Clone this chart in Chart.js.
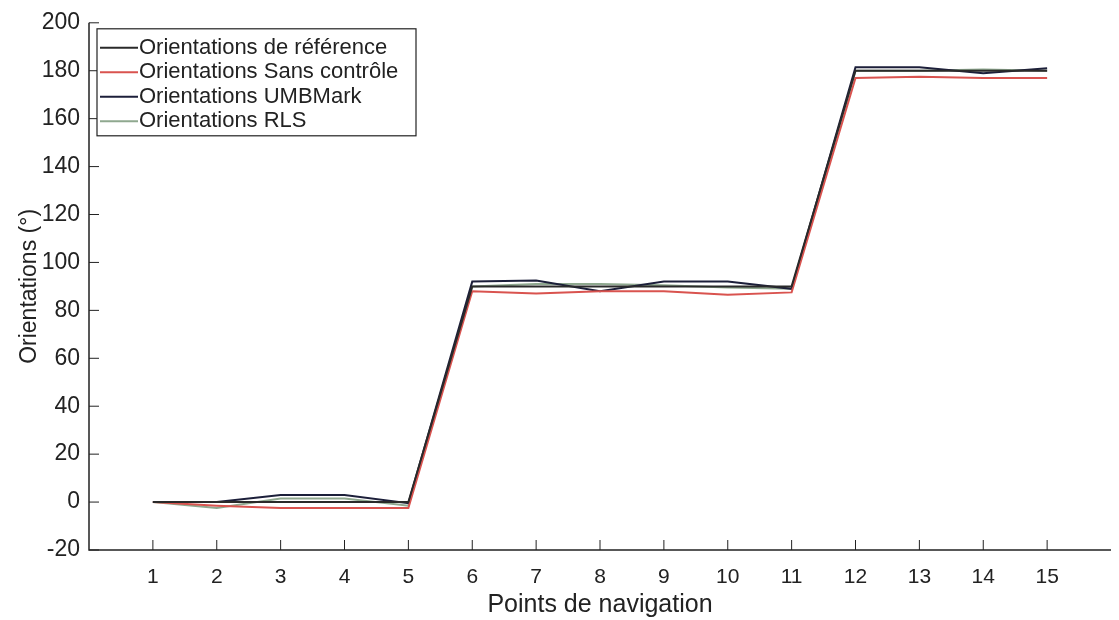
<!DOCTYPE html>
<html>
<head>
<meta charset="utf-8">
<script src="https://cdn.jsdelivr.net/npm/chart.js@4"></script>
<style>
  html, body { margin: 0; padding: 0; background: #fff; }
  #wrap { width: 1119px; height: 620px; }
</style>
</head>
<body>
<div id="wrap"><canvas id="orientChart" width="1119" height="620"></canvas></div>
<script>
// Navigation points (x axis)
const points = [1, 2, 3, 4, 5, 6, 7, 8, 9, 10, 11, 12, 13, 14, 15];

// Orientations in degrees
const reference = [0, 0, 0, 0, 0, 90, 90, 90, 90, 90, 90, 180, 180, 180, 180];
const sansControle = [0, -1.5, -2.5, -2.5, -2.5, 88, 87, 88, 88, 86.5, 87.5, 177, 177.5, 177, 177];
const umbmark = [0, 0, 3, 3, -0.5, 92, 92.5, 88, 92, 92, 89, 181.5, 181.5, 179, 181];
const rls = [0, -2.5, 1.5, 1.5, -1.5, 90, 91, 91, 90.5, 89.5, 89, 180, 180, 180.5, 180];

const seriesLabels = [
  'Orientations de référence',
  'Orientations Sans contrôle',
  'Orientations UMBMark',
  'Orientations RLS'
];
const seriesColors = ['#2a2a2a', '#d9534f', '#1c1f3a', '#8fa88f'];

const FONT = '"Liberation Sans", Arial, sans-serif';

/**
 * Turns a list of y values into {x, y} points.
 * @param {number[]} ys - Values for each navigation point.
 */
function toXY(ys) {
  return ys.map((y, i) => ({ x: points[i], y }));
}

// MATLAB style: inward ticks and a boxed legend inside the plot
const matlabAxes = {
  id: 'matlabAxes',
  afterDraw(chart) {
    const { ctx, chartArea, scales } = chart;
    const xs = scales.x, ys = scales.y;
    ctx.save();
    ctx.strokeStyle = '#222';
    ctx.lineWidth = 1.5;
    ctx.beginPath();
    ctx.moveTo(chartArea.left, chartArea.top);
    ctx.lineTo(chartArea.left, chartArea.bottom);
    ctx.lineTo(chartArea.right, chartArea.bottom);
    ctx.stroke();

    ctx.lineWidth = 1;
    points.forEach(p => {
      const px = xs.getPixelForValue(p);
      ctx.beginPath();
      ctx.moveTo(px, chartArea.bottom);
      ctx.lineTo(px, chartArea.bottom - 10);
      ctx.stroke();
    });
    for (let v = -20; v <= 200; v += 20) {
      const py = ys.getPixelForValue(v);
      ctx.beginPath();
      ctx.moveTo(chartArea.left, py);
      ctx.lineTo(chartArea.left + 10, py);
      ctx.stroke();
    }

    // legend box
    const bx = chartArea.left + 8, by = chartArea.top + 6;
    const bw = 319, bh = 107;
    ctx.fillStyle = '#fff';
    ctx.fillRect(bx, by, bw, bh);
    ctx.strokeStyle = '#222';
    ctx.lineWidth = 1.2;
    ctx.strokeRect(bx, by, bw, bh);
    ctx.font = '22px ' + FONT;
    ctx.textBaseline = 'middle';
    chart.data.datasets.forEach((ds, i) => {
      const ry = by + 19 + i * 24.5;
      ctx.strokeStyle = ds.borderColor;
      ctx.lineWidth = 2;
      ctx.beginPath();
      ctx.moveTo(bx + 3, ry);
      ctx.lineTo(bx + 41, ry);
      ctx.stroke();
      ctx.fillStyle = '#222';
      ctx.fillText(ds.label, bx + 42, ry);
    });
    ctx.restore();
  }
};

function init() {
  const ctx = document.getElementById('orientChart').getContext('2d');
  new Chart(ctx, {
    type: 'line',
    data: {
      datasets: [reference, sansControle, umbmark, rls].map((d, i) => ({
        label: seriesLabels[i],
        data: toXY(d),
        borderColor: seriesColors[i],
        borderWidth: 2,
        pointRadius: 0,
        tension: 0,
        fill: false
      }))
    },
    options: {
      responsive: false,
      animation: false,
      layout: { padding: { top: 20, right: 8, left: 12, bottom: 0 } },
      plugins: { legend: { display: false }, tooltip: { enabled: false } },
      scales: {
        x: {
          type: 'linear',
          min: 0,
          max: 16,
          border: { display: false },
          grid: { display: false, drawTicks: false },
          afterFit: scale => {
            scale.height = 70;
            scale.paddingRight = 0;
          },
          ticks: {
            stepSize: 1,
            padding: 15,
            color: '#222',
            font: { family: FONT, size: 21 },
            callback: v => (v >= 1 && v <= 15) ? v : ''
          },
          title: {
            display: true,
            text: 'Points de navigation',
            color: '#222',
            font: { family: FONT, size: 25 },
            padding: { top: 4, bottom: 0 }
          }
        },
        y: {
          min: -20,
          max: 200,
          border: { display: false },
          grid: { display: false, drawTicks: false },
          afterFit: scale => { scale.width = 77; },
          ticks: {
            stepSize: 20,
            padding: 9,
            color: '#222',
            font: { family: FONT, size: 23 }
          },
          title: {
            display: true,
            text: 'Orientations (°)',
            color: '#222',
            font: { family: FONT, size: 23 },
            padding: { top: 4, bottom: 0 }
          }
        }
      }
    },
    plugins: [matlabAxes]
  });
}

document.addEventListener('DOMContentLoaded', init);
</script>
</body>
</html>
